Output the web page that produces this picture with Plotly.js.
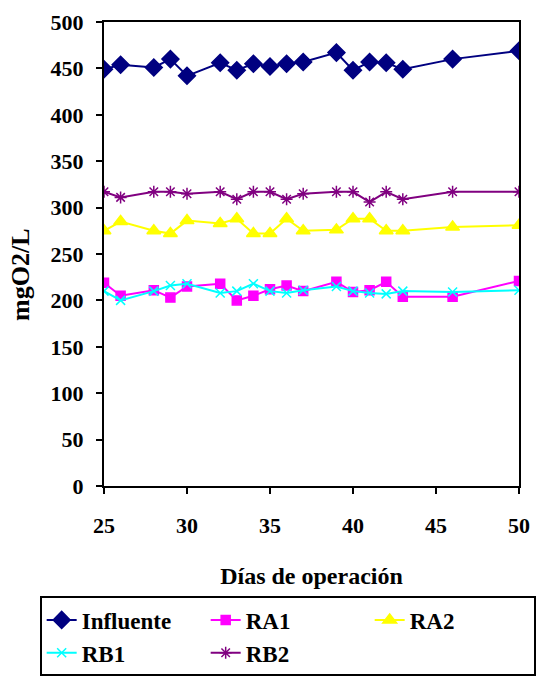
<!DOCTYPE html>
<html>
<head>
<meta charset="utf-8">
<script src="https://cdn.plot.ly/plotly-3.0.1.min.js"></script>
<style>html,body{margin:0;padding:0;background:#fff;}#chart{width:540px;height:688px;}</style>
</head>
<body>
<div id="chart"></div>
<script>
var days = [25, 26, 28, 29, 30, 32, 33, 34, 35, 36, 37, 39, 40, 41, 42, 43, 46, 50];
var influente = [449, 454, 451, 460, 442, 456, 448, 455, 452, 455, 457, 467, 448, 457, 456, 449, 460, 469];
var ra1 = [219, 205, 211, 203, 215, 218, 200, 205, 212, 216, 210, 220, 209, 211, 220, 204, 204, 221];
var ra2 = [275, 285, 275, 272, 286, 283, 288, 272, 272, 288, 275, 276, 288, 288, 275, 275, 279, 281];
var rb1 = [210, 200, 210, 216, 218, 208, 210, 218, 210, 208, 211, 215, 210, 208, 207, 210, 209, 211];
var rb2 = [317, 311, 317, 317, 315, 317, 309, 317, 317, 309, 315, 317, 317, 306, 317, 309, 317, 317];
var seriesNames = ['Influente', 'RA1', 'RA2', 'RB1', 'RB2'];
var xTicks = [25, 30, 35, 40, 45, 50];
var yTicks = [0, 50, 100, 150, 200, 250, 300, 350, 400, 450, 500];
var xTitle = 'Días de operación';
var yTitle = 'mgO2/L';

var font = '"Liberation Serif", "Times New Roman", serif';
function b(s) { return '<b>' + s + '</b>'; }
function tr(y, name, color, symbol, size) {
  return {x: days, y: y, name: b(name), type: 'scatter', mode: 'lines+markers',
    line: {color: color, width: 2},
    marker: {symbol: symbol, size: size, color: color, line: {color: color, width: 1.5}}};
}
var data = [
  tr(influente, seriesNames[0], '#000080', 'diamond', 13),
  tr(ra1, seriesNames[1], '#FF00FF', 'square', 9),
  tr(ra2, seriesNames[2], '#FFFF00', 'triangle-up', 12),
  tr(rb1, seriesNames[3], '#00FFFF', 'x-thin', 9),
  tr(rb2, seriesNames[4], '#800080', 'asterisk', 10)
];
var axisCommon = {showline: true, linecolor: '#000', linewidth: 2, mirror: true,
  showgrid: false, zeroline: false, ticks: 'outside', ticklen: 6, tickcolor: '#000', tickwidth: 2,
  tickfont: {family: font, size: 22, color: '#000'}};
var layout = {
  width: 540, height: 688,
  margin: {l: 104, r: 21, t: 22, b: 198},
  paper_bgcolor: '#fff', plot_bgcolor: '#fff',
  showlegend: true,
  xaxis: Object.assign({}, axisCommon, {range: [25, 50], tickmode: 'array', tickvals: xTicks,
    ticktext: xTicks.map(b),
    ticklabelstandoff: 13,
    title: {text: b(xTitle), font: {family: font, size: 24, color: '#000'}, standoff: 30}}),
  yaxis: Object.assign({}, axisCommon, {range: [0, 500], tickmode: 'array', tickvals: yTicks,
    ticktext: yTicks.map(b),
    ticklabelstandoff: 8}),
  annotations: [{text: b(yTitle), xref: 'paper', yref: 'paper', x: -0.2, y: 0.455,
    xanchor: 'center', yanchor: 'middle', textangle: -90, showarrow: false,
    font: {family: font, size: 26, color: '#000'}}],
  legend: {orientation: 'h', x: -0.155, xanchor: 'left', y: -0.238, yanchor: 'top',
    bgcolor: '#fff', bordercolor: '#000', borderwidth: 2,
    entrywidth: 119, entrywidthmode: 'pixels', tracegroupgap: 0,
    font: {family: font, size: 23, color: '#000'}}
};
Plotly.newPlot('chart', data, layout, {displayModeBar: false, staticPlot: true});
</script>
</body>
</html>
